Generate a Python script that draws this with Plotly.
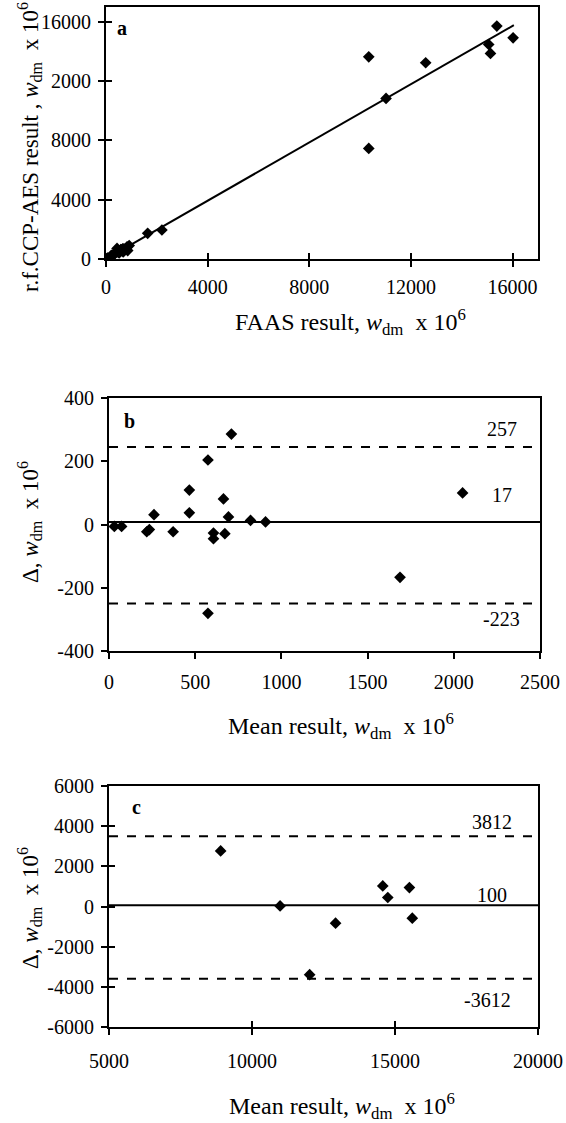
import plotly.graph_objects as go

W, H = 566, 1123
FONT = "Liberation Serif"
FS = 20      # tick labels
XTFS = 24    # x axis titles
YTFS = 23    # y axis titles

# ---------------- Panel a data: FAAS vs r.f.CCP-AES ----------------
a_faas = [31, 73, 205, 226, 280, 361, 520, 484, 676, 434, 592, 583, 704, 657, 705, 853, 827, 912,
          1640, 2200, 10340, 10340, 12580, 11020, 15380, 16020, 15060, 15130]
a_icp = [31, 73, 228, 242, 249, 384, 412, 447, 472, 715, 619, 628, 623, 686, 681, 567, 814, 904,
         1730, 1955, 13640, 7460, 13240, 10830, 15710, 14920, 14470, 13870]
a_fit_x = [0, 16050]
a_fit_y = [0, 15770]
a_xticks = [0, 4000, 8000, 12000, 16000]
a_xticktext = ["0", "4000", "8000", "12000", "16000"]
a_yticks = [0, 4000, 8000, 12000, 16000]
a_yticktext = ["0", "4000", "8000", "2000", "16000"]

# ---------------- Panel b data: mean vs difference (low range) ----------------
b_mean = [31, 73, 219, 234, 261, 372, 466, 466, 574, 574, 606, 606, 664, 672, 693, 710, 821, 908, 1688, 2051]
b_diff = [-6, -6, -23, -16, 31, -23, 109, 37, 204, -281, -27, -45, 81, -29, 24, 286, 13, 8, -167, 100]
b_lines = [245, 8, -250]
b_line_text = ["257", "17", "-223"]
b_xticks = [0, 500, 1000, 1500, 2000, 2500]
b_xticktext = ["0", "500", "1000", "1500", "2000", "2500"]
b_yticks = [-400, -200, 0, 200, 400]
b_yticktext = ["-400", "-200", "0", "200", "400"]

# ---------------- Panel c data: mean vs difference (high range) ----------------
c_mean = [8904, 10982, 12015, 12922, 14572, 14748, 15504, 15605]
c_diff = [2765, 30, -3394, -828, 1026, 447, 944, -580]
c_lines = [3500, 60, -3600]
c_line_text = ["3812", "100", "-3612"]
c_xticks = [5000, 10000, 15000, 20000]
c_xticktext = ["5000", "10000", "15000", "20000"]
c_yticks = [-6000, -4000, -2000, 0, 2000, 4000, 6000]
c_yticktext = ["-6000", "-4000", "-2000", "0", "2000", "4000", "6000"]


def px(x):
    return x / W


def py(y):
    return 1 - y / H


fig = go.Figure()

mk = dict(symbol="diamond", size=9, color="black", line=dict(width=0))

# Panel a
fig.add_trace(go.Scatter(x=a_fit_x, y=a_fit_y, mode="lines", line=dict(color="black", width=2),
                         xaxis="x", yaxis="y", showlegend=False, hoverinfo="skip"))
fig.add_trace(go.Scatter(x=a_faas, y=a_icp, mode="markers", marker=mk, xaxis="x", yaxis="y", showlegend=False))

# Panel b
line_dash = ["dash", "solid", "dash"]
for v, d in zip(b_lines, line_dash):
    fig.add_trace(go.Scatter(x=[b_xticks[0], b_xticks[-1]], y=[v, v], mode="lines",
                             line=dict(color="black", width=2, dash=d),
                             xaxis="x2", yaxis="y2", showlegend=False, hoverinfo="skip"))
fig.add_trace(go.Scatter(x=b_mean, y=b_diff, mode="markers", marker=mk, xaxis="x2", yaxis="y2", showlegend=False))

# Panel c
for v, d in zip(c_lines, line_dash):
    fig.add_trace(go.Scatter(x=[c_xticks[0], c_xticks[-1]], y=[v, v], mode="lines",
                             line=dict(color="black", width=2, dash=d),
                             xaxis="x3", yaxis="y3", showlegend=False, hoverinfo="skip"))
fig.add_trace(go.Scatter(x=c_mean, y=c_diff, mode="markers", marker=mk, xaxis="x3", yaxis="y3", showlegend=False))

# dummy traces for overlay (inside tick) axes
fig.add_trace(go.Scatter(x=[None], y=[None], xaxis="x4", yaxis="y4", showlegend=False, hoverinfo="skip"))
fig.add_trace(go.Scatter(x=[None], y=[None], xaxis="x5", yaxis="y5", showlegend=False, hoverinfo="skip"))

tickfont = dict(family=FONT, size=FS, color="black")


def ax(domain, rng, tickvals, ticktext, anchor, standoff):
    return dict(domain=domain, range=rng, tickvals=tickvals, ticktext=ticktext,
                showgrid=False, zeroline=False, automargin=False,
                showline=True, linecolor="black", linewidth=2, mirror=True,
                ticks="outside", ticklen=6, tickwidth=1.5, tickcolor="black", tickfont=tickfont,
                ticklabelstandoff=standoff, anchor=anchor, fixedrange=True)


dom_a_x = [px(106), px(538)]
dom_a_y = [py(259), py(7)]
dom_b_x = [px(109), px(540)]
dom_b_y = [py(651), py(398)]
dom_c_x = [px(109), px(538)]
dom_c_y = [py(1027), py(786)]

layout = dict(
    width=W, height=H, margin=dict(l=0, r=0, t=0, b=0, autoexpand=False),
    paper_bgcolor="white", plot_bgcolor="white",
    font=dict(family=FONT, size=FS, color="black"),
    xaxis=ax(dom_a_x, [0, 17000], a_xticks, a_xticktext, "y", 3),
    yaxis=ax(dom_a_y, [0, 17000], a_yticks, a_yticktext, "x", 3),
    xaxis2=ax(dom_b_x, [0, 2500], b_xticks, b_xticktext, "y2", 6),
    yaxis2=ax(dom_b_y, [-400, 400], b_yticks, b_yticktext, "x2", 3),
    xaxis3=ax(dom_c_x, [5000, 20000], c_xticks, c_xticktext, "y3", 9),
    yaxis3=ax(dom_c_y, [-6000, 6000], c_yticks, c_yticktext, "x3", 3),
)
# overlay axes producing the inner half of crossing ticks
for k, (dx, dy, rx, ry, tx, ty) in {
    4: (dom_a_x, dom_a_y, [0, 17000], [0, 17000], a_xticks, a_yticks),
    5: (dom_c_x, dom_c_y, [5000, 20000], [-6000, 6000], c_xticks, c_yticks),
}.items():
    base = "" if k == 4 else "3"
    layout[f"xaxis{k}"] = dict(domain=dx, range=rx, tickvals=tx, overlaying="x" + base, anchor=f"y{k}",
                               showgrid=False, zeroline=False, showline=False, showticklabels=False,
                               automargin=False,
                               ticks="inside", ticklen=6, tickwidth=1.5, tickcolor="black", fixedrange=True)
    layout[f"yaxis{k}"] = dict(domain=dy, range=ry, tickvals=ty, overlaying="y" + base, anchor=f"x{k}",
                               showgrid=False, zeroline=False, showline=False, showticklabels=False,
                               automargin=False,
                               ticks="inside", ticklen=6, tickwidth=1.5, tickcolor="black", fixedrange=True)

fig.update_layout(**layout)

unit = "<i>w</i><sub>dm</sub>  x 10<sup>6</sup>"
anns = []


def ann(text, x, y, angle=0, size=XTFS):
    anns.append(dict(text=text, x=px(x), y=py(y), xref="paper", yref="paper", showarrow=False,
                     textangle=angle, font=dict(family=FONT, size=size, color="black"),
                     xanchor="center", yanchor="middle"))


# axis titles
ann("r.f.CCP-AES result , " + unit, 29, 147, angle=-90, size=YTFS)
ann("FAAS result, " + unit, 350, 322)
ann("Δ, " + unit, 29, 522, angle=-90, size=YTFS)
ann("Mean result, " + unit, 341, 726)
ann("Δ, " + unit, 29, 908, angle=-90, size=YTFS)
ann("Mean result, " + unit, 342, 1106)

fig.update_layout(annotations=anns)

# panel letters and limit labels (data coordinates)
lf = dict(family=FONT, size=FS, color="black")
fig.add_annotation(text="<b>a</b>", x=629, y=15600, xref="x", yref="y", showarrow=False, font=lf)
fig.add_annotation(text="<b>b</b>", x=116, y=327, xref="x2", yref="y2", showarrow=False, font=lf)
fig.add_annotation(text="<b>c</b>", x=5944, y=4954, xref="x3", yref="y3", showarrow=False, font=lf)
for t, yy in zip(b_line_text, [301, 92, -300]):
    fig.add_annotation(text=t, x=2277, y=yy, xref="x2", yref="y2", showarrow=False, font=lf)
for t, xx, yy in zip(c_line_text, [18375, 18375, 18250], [4222, 580, -4670]):
    fig.add_annotation(text=t, x=xx, y=yy, xref="x3", yref="y3", showarrow=False, font=lf)

fig.write_html("out.html", config={"displayModeBar": False},
               post_script="document.body.style.margin='0px';")
